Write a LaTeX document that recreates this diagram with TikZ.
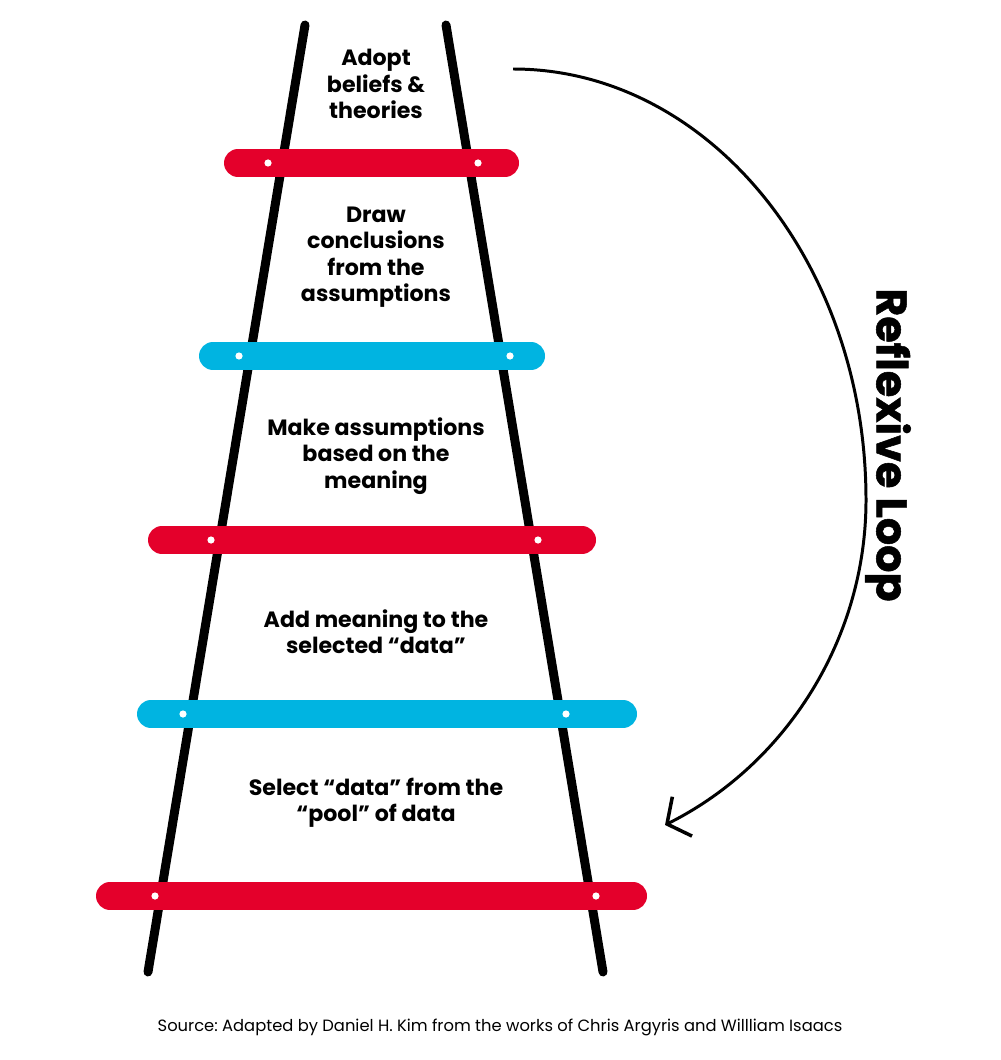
\documentclass[tikz,border=0pt]{standalone}
\usepackage{fontspec}
\setmainfont{Poppins}
\usepackage{tikz}
\usetikzlibrary{arrows.meta}
\frenchspacing
\definecolor{rungred}{HTML}{E4002B}
\definecolor{rungblue}{HTML}{00B4E1}
\tikzstyle{leg} = [line width=5.1pt, line cap=round, black]
\tikzstyle{redrung} = [line width=0.56cm, line cap=round, rungred]
\tikzstyle{bluerung} = [line width=0.56cm, line cap=round, rungblue]
\tikzstyle{bolt} = [fill=white, draw=none]
\tikzstyle{stage} = [align=center, font=\fontsize{12.6}{15}\selectfont\bfseries]
\tikzstyle{looparrow} = [line width=1.7pt, -{Straight Barb[length=0.34cm, width=0.88cm, line width=2pt]}]

\begin{document}
\begin{tikzpicture}[x=0.02cm, y=-0.02cm]
	\useasboundingbox (0,0) rectangle (1000,1060);
	% ladder
	\draw [leg] (305,25) -- (148,972);
	\draw [leg] (446,25) -- (603,972);
	\draw [redrung] (238,163) -- (505,163);
	\draw [bluerung] (213,356) -- (531,356);
	\draw [redrung] (162,540) -- (582,540);
	\draw [bluerung] (151,714) -- (623,714);
	\draw [redrung] (110,896) -- (633,896);
	\foreach \x/\y in {268/163, 478/163, 239/356, 510/356, 211/540, 538/540, 183/714, 566/714, 155/896, 596/896}
		\fill [bolt] (\x,\y) circle (3.6);
	% stages
	\node (adopt) [stage] at (376,84) {Adopt\\beliefs \&\\theories};
	\node (conclude) [stage] at (376,257) {Draw\\conclusions\\from the\\assumptions};
	\node (assume) [stage] at (376,456) {Make assumptions\\based on the\\meaning};
	\node (meaning) [stage] at (376,632) {Add meaning to the\\selected “data”};
	\node (select) [stage] at (376,803) {Select “data” from the\\“pool” of data};
	% loop
	\coordinate (loopstart) at (513,69);
	\coordinate (loopmid) at (866,500);
	\coordinate (loopend) at (665,825);
	\draw [looparrow] (loopstart) .. controls (708,69) and (866,262) .. (loopmid) .. controls (866,640) and (785,765) .. (loopend);
	\node (loop) [rotate=-90, font=\fontsize{24.4}{28}\selectfont\bfseries\addfontfeature{FakeBold=1.2}] at (888,445) {Reflexive Loop};
	\node (source) [font=\fontsize{9.3}{11}\selectfont] at (500,1027) {Source: Adapted by Daniel H. Kim from the works of Chris Argyris and Willliam Isaacs};
\end{tikzpicture}
\end{document}
